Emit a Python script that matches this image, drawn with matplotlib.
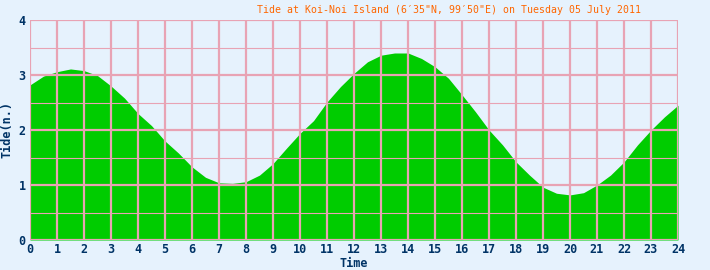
import numpy as np
import matplotlib
matplotlib.use("Agg")
import matplotlib.pyplot as plt

# tide height read every half hour, 00:00 .. 24:00
hours = np.arange(0, 24.5, 0.5)
tide = [2.82, 2.98, 3.06, 3.11, 3.08, 2.99, 2.80, 2.58, 2.30, 2.08,
        1.80, 1.58, 1.33, 1.14, 1.04, 1.03, 1.06, 1.18, 1.39, 1.67,
        1.94, 2.17, 2.51, 2.79, 3.03, 3.24, 3.36, 3.40, 3.40, 3.30,
        3.15, 2.94, 2.64, 2.33, 2.00, 1.73, 1.42, 1.18, 0.96, 0.85,
        0.82, 0.86, 1.00, 1.18, 1.42, 1.73, 2.00, 2.24, 2.45]

x_ticks = list(range(0, 25))
y_ticks = [0, 1, 2, 3, 4]

title = "Tide at Koi-Noi Island (6\u203235\"N, 99\u203250\"E) on Tuesday 05 July 2011"

bg = "#E6F2FD"
grid_col = "#E8A3B4"
navy = "#003366"

fig = plt.figure(figsize=(7.1, 2.7), dpi=100, facecolor=bg)
ax = fig.add_axes([30 / 710, 1 - 240 / 270, 648 / 710, 220 / 270])
ax.set_facecolor(bg)

ax.fill_between(hours, 0, tide, color="#00CC00", linewidth=0, zorder=1)

# grid on top of the fill
for h in x_ticks:
    ax.axvline(h, color=grid_col, linewidth=1.6, zorder=2)
for v in np.arange(0, 4.01, 0.5):
    lw = 1.6 if v == int(v) else 0.8
    ax.axhline(v, color=grid_col, linewidth=lw, zorder=2)

ax.set_xlim(0, 24)
ax.set_ylim(0, 4)
for s in ax.spines.values():
    s.set_visible(False)

ax.set_xticks(x_ticks)
ax.set_yticks(y_ticks)
ax.tick_params(length=0, labelsize=8.5, labelcolor=navy, pad=2)
for lab in ax.get_xticklabels() + ax.get_yticklabels():
    lab.set_fontfamily("DejaVu Sans Mono")
    lab.set_fontweight("bold")
ax.tick_params(axis="y", pad=3)

ax.set_xlabel("Time", fontsize=8.5, fontweight="bold", color=navy,
              fontfamily="DejaVu Sans Mono", labelpad=1)
ax.set_ylabel("Tide(n.)", fontsize=8.5, fontweight="bold", color=navy,
              fontfamily="DejaVu Sans Mono")
ax.yaxis.set_label_coords(-0.026, 0.5)

fig.text(641 / 710, 1 - 10 / 270, title, ha="right", va="center",
         fontsize=7.1, color="#FF6600", fontfamily="DejaVu Sans Mono")

fig.savefig("out.png", dpi=100, facecolor=bg)
